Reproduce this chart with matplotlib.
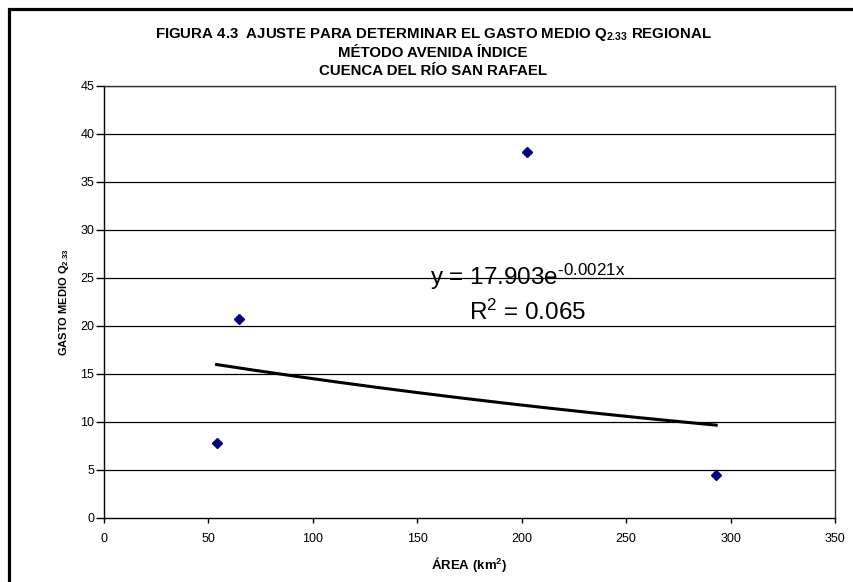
import numpy as np
import matplotlib
matplotlib.use("Agg")
import matplotlib.pyplot as plt
from matplotlib.patches import Rectangle

plt.rcParams['font.family'] = ['Liberation Sans', 'DejaVu Sans']
plt.rcParams['mathtext.fontset'] = 'custom'
plt.rcParams['mathtext.rm'] = 'Liberation Sans'
plt.rcParams['mathtext.bf'] = 'Liberation Sans:bold'
plt.rcParams['mathtext.it'] = 'Liberation Sans:italic'

# Data
area = [53.9, 64.6, 202.3, 293.1]
gasto = [7.8, 20.7, 38.1, 4.5]
fit_a = 17.903
fit_b = -0.0021
r2 = 0.065
xticks = [0, 50, 100, 150, 200, 250, 300, 350]
yticks = [0, 5, 10, 15, 20, 25, 30, 35, 40, 45]

W, H = 854, 582
fig = plt.figure(figsize=(W / 100, H / 100), dpi=100)

# outer frame (left & top visible)
fig.patches.append(Rectangle((8.5 / W, -0.1), 1.2, (H - 8.5) / H + 0.1,
                             transform=fig.transFigure, fill=False,
                             edgecolor='black', linewidth=2.3))

ax = fig.add_axes([104 / W, 1 - 518 / H, (835 - 104) / W, (518 - 86) / H])
ax.set_xlim(0, 350)
ax.set_ylim(0, 45)
ax.set_xticks(xticks)
ax.set_yticks(yticks)
ax.tick_params(axis='x', direction='out', length=3.5, width=1, labelsize=9,
               colors='black', pad=7.5)
ax.tick_params(axis='y', direction='out', length=5.5, width=1, labelsize=9,
               colors='black', pad=1.5)
for y in yticks[1:]:
    ax.axhline(y, color='black', linewidth=0.9, zorder=1)
for s in ax.spines.values():
    s.set_color('black')
    s.set_linewidth(1.0)
ax.spines['right'].set_color('#333333')
ax.spines['top'].set_color('#333333')

ax.plot(area, gasto, linestyle='none', marker='D', markersize=4.6,
        color='#000080', zorder=3)

xs = np.linspace(min(area), max(area), 200)
ax.plot(xs, fit_a * np.exp(fit_b * xs), color='black', linewidth=2.2, zorder=2)

ax.text(203, 25.1, f'y = {fit_a}e' + r'$^{\text{' + f'{fit_b}' + r'x}}$',
        fontsize=17.5, ha='center', va='center', color='black', zorder=4)
ax.text(203, 21.4, r'R$^{\mathrm{2}}$ = ' + f'{r2}', fontsize=17.5,
        ha='center', va='center', color='black', zorder=4)

ax.set_xlabel(r'ÁREA (km$^{\mathbf{2}}$)', fontsize=9.5, fontweight='bold',
              labelpad=7)
ax.set_ylabel(r'GASTO MEDIO Q$_{\mathbf{2.33}}$', fontsize=8,
              fontweight='bold', labelpad=7)

cx = 433 / W
fig.text(cx, 1 - 38 / H,
         r'FIGURA 4.3  AJUSTE PARA DETERMINAR EL GASTO MEDIO Q$_{\mathbf{2.33}}$ REGIONAL',
         ha='center', va='baseline', fontsize=10.8, fontweight='bold')
fig.text(cx, 1 - 57 / H, 'MÉTODO AVENIDA ÍNDICE', ha='center',
         va='baseline', fontsize=10.8, fontweight='bold')
fig.text(cx, 1 - 75 / H, 'CUENCA DEL RÍO SAN RAFAEL', ha='center',
         va='baseline', fontsize=10.8, fontweight='bold')

fig.savefig('out.png', dpi=100)
